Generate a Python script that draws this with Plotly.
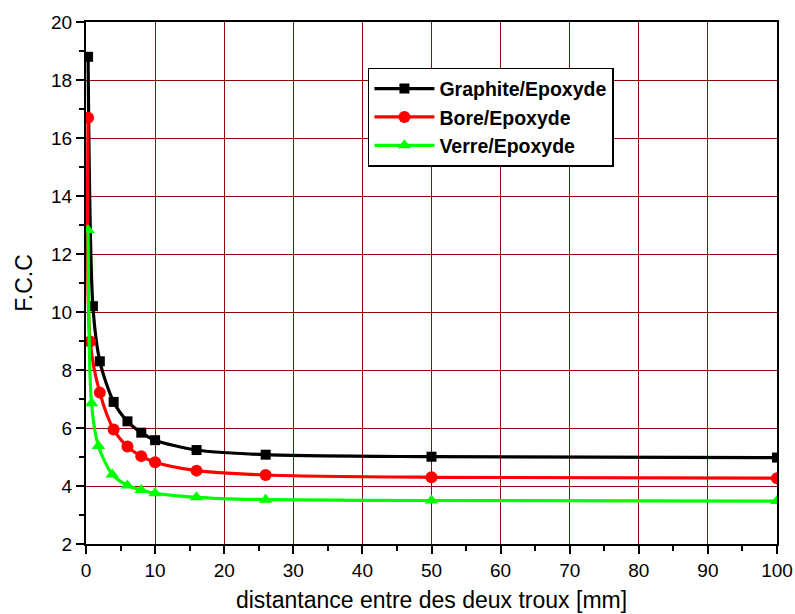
import plotly.graph_objects as go

x_graphite = [0.3, 1, 2, 4, 6, 8, 10, 16, 26, 50, 100]
y_graphite = [18.8, 10.2, 8.3, 6.9, 6.23, 5.84, 5.58, 5.24, 5.08, 5.01, 4.98]

x_bore = [0.3, 0.6, 2, 4, 6, 8, 10, 16, 26, 50, 100]
y_bore = [16.7, 8.98, 7.22, 5.95, 5.36, 5.03, 4.82, 4.53, 4.38, 4.30, 4.27]

x_verre = [0.3, 0.8, 1.8, 3.8, 6, 8, 10, 16, 26, 50, 100]
y_verre = [12.83, 6.85, 5.38, 4.40, 4.02, 3.86, 3.75, 3.61, 3.53, 3.50, 3.48]

x_ticks = list(range(0, 101, 10))
y_ticks = list(range(2, 21, 2))

fig = go.Figure()
series = [
    ("Graphite/Epoxyde", x_graphite, y_graphite, "black", "square", 10),
    ("Bore/Epoxyde", x_bore, y_bore, "#ff0000", "circle", 12),
    ("Verre/Epoxyde", x_verre, y_verre, "#00ff00", "triangle-up", 12),
]
for name, xs, ys, col, sym, sz in series:
    fig.add_trace(go.Scatter(
        x=xs, y=ys, name=name, mode="lines+markers",
        line=dict(color=col, width=3.2, shape="spline", smoothing=0.8),
        marker=dict(color=col, symbol=sym, size=sz),
    ))

axis_common = dict(
    showline=True, linecolor="black", linewidth=2, mirror=True,
    ticks="outside", ticklen=8, tickwidth=2, tickcolor="black",
    showgrid=True, gridcolor="#8b0a0a", gridwidth=1,
    zeroline=False, automargin=False,
    tickfont=dict(family="Liberation Sans, Arial, sans-serif", size=19, color="black"),
)

fig.update_xaxes(
    range=[0, 100], tickvals=x_ticks,
    minor=dict(dtick=5, ticks="outside", ticklen=5, tickwidth=2, tickcolor="black", showgrid=False),
    title=dict(text="distantance entre des deux troux [mm]",
               font=dict(family="Liberation Sans, Arial, sans-serif", size=23, color="black"),
               standoff=12),
    **axis_common,
)
fig.update_yaxes(
    range=[2, 20], tickvals=y_ticks,
    minor=dict(dtick=1, ticks="outside", ticklen=5, tickwidth=2, tickcolor="black", showgrid=False),
    title=dict(text="F.C.C",
               font=dict(family="Liberation Sans, Arial, sans-serif", size=23, color="black"),
               standoff=12),
    **axis_common,
)

fig.update_layout(
    width=795, height=614,
    margin=dict(l=86, r=18, t=22, b=70),
    paper_bgcolor="white", plot_bgcolor="white",
    legend=dict(
        x=0.408, y=0.912, xanchor="left", yanchor="top",
        bgcolor="white", bordercolor="black", borderwidth=1.5,
        font=dict(family="Liberation Sans, Arial, sans-serif", size=19.5, color="black", weight="bold"),
        tracegroupgap=0, itemwidth=60,
    ),
)

fig.write_html("out.html")
